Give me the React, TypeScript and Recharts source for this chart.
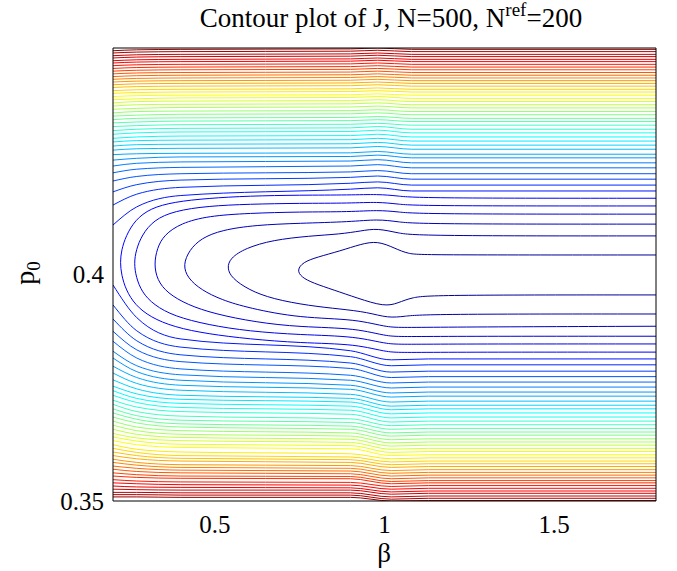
import { LineChart, Line, XAxis, YAxis } from 'recharts'

const X_TICKS = [0.5, 1, 1.5]
const Y_TICKS = [0.35, 0.4]

// inner contours (levels 1-6), open to the right: [beta, p0]
const C1: [number, number][] = [
  [1.8, 0.4042], [1.12, 0.4042], [1.07, 0.4044], [1.03, 0.4057], [0.98, 0.4073], [0.93, 0.4066],
  [0.87, 0.4051], [0.8, 0.4037], [0.76, 0.4026], [0.742, 0.4009], [0.755, 0.3993], [0.79, 0.398],
  [0.85, 0.3965], [0.92, 0.3947], [1.0, 0.3928], [1.04, 0.3936], [1.08, 0.3949], [1.15, 0.3954], [1.8, 0.3954],
]
const C2: [number, number][] = [
  [1.8, 0.4084], [1.1, 0.4084], [1.04, 0.409], [0.98, 0.4101], [0.93, 0.4095], [0.87, 0.4088],
  [0.78, 0.4084], [0.67, 0.4075], [0.59, 0.4057], [0.545, 0.4035], [0.536, 0.4013], [0.55, 0.3991],
  [0.6, 0.3965], [0.67, 0.3945], [0.78, 0.393], [0.87, 0.3923], [0.95, 0.3916], [1.01, 0.3903],
  [1.06, 0.3907], [1.12, 0.3912], [1.8, 0.3912],
]
const C3: [number, number][] = [
  [1.8, 0.411], [1.1, 0.411], [1.04, 0.4115], [0.98, 0.4121], [0.9, 0.4115], [0.75, 0.4112],
  [0.62, 0.4108], [0.52, 0.4097], [0.46, 0.4079], [0.425, 0.4053], [0.406, 0.402], [0.42, 0.3991],
  [0.46, 0.3965], [0.52, 0.3943], [0.6, 0.3925], [0.75, 0.3903], [0.92, 0.3901], [1.01, 0.3881],
  [1.08, 0.3883], [1.8, 0.3885],
]
const C4: [number, number][] = [
  [1.8, 0.4132], [1.1, 0.4132], [1.04, 0.4137], [0.98, 0.4141], [0.9, 0.4137], [0.75, 0.4137],
  [0.6, 0.4134], [0.48, 0.4128], [0.4, 0.4112], [0.35, 0.4086], [0.33, 0.4057], [0.321, 0.4022],
  [0.33, 0.3987], [0.36, 0.3958], [0.42, 0.3932], [0.5, 0.3912], [0.62, 0.3894], [0.75, 0.3883],
  [0.92, 0.3881], [1.01, 0.3861], [1.08, 0.3863], [1.8, 0.3863],
]
const C5: [number, number][] = [
  [1.8, 0.415], [1.1, 0.415], [1.04, 0.4154], [0.98, 0.4159], [0.9, 0.4156], [0.75, 0.4156],
  [0.6, 0.4154], [0.48, 0.415], [0.38, 0.4139], [0.32, 0.4119], [0.285, 0.4086], [0.268, 0.4053],
  [0.262, 0.4024], [0.268, 0.3993], [0.285, 0.396], [0.32, 0.3932], [0.38, 0.3907], [0.48, 0.3888],
  [0.6, 0.3874], [0.75, 0.3866], [0.92, 0.3863], [1.01, 0.3844], [1.08, 0.3846], [1.8, 0.3846],
]
const C6: [number, number][] = [
  [1.8, 0.4167], [1.1, 0.4167], [1.04, 0.4172], [0.98, 0.4176], [0.9, 0.4174], [0.75, 0.4174],
  [0.6, 0.4172], [0.48, 0.4167], [0.38, 0.4159], [0.31, 0.4145], [0.265, 0.4119], [0.238, 0.4084],
  [0.225, 0.4053], [0.221, 0.4026], [0.225, 0.3998], [0.238, 0.3965], [0.265, 0.3932], [0.31, 0.3905],
  [0.38, 0.3883], [0.48, 0.3868], [0.6, 0.3857], [0.75, 0.3848], [0.92, 0.3846], [1.01, 0.3826],
  [1.08, 0.3828], [1.8, 0.3828],
]
const INNER = [C1, C2, C3, C4, C5, C6]

// outer contours (levels 7-47), read at fixed beta columns
const UPPER_BETA = [0.2, 0.27, 0.4, 0.9, 0.98, 1.08, 1.8]
const UP_EDGE = [0.4108, 0.4152, 0.4181, 0.4205, 0.4223, 0.4238, 0.4251, 0.4263, 0.4273, 0.4282, 0.4291, 0.4299, 0.4308, 0.4316, 0.4325, 0.4333, 0.434, 0.4348, 0.4355, 0.4363, 0.437, 0.4377, 0.4384, 0.4391, 0.4398, 0.4404, 0.4411, 0.4417, 0.4423, 0.4429, 0.4435, 0.4441, 0.4447, 0.4453, 0.4459, 0.4465, 0.447, 0.4476, 0.4481, 0.4487, 0.4492]
const UP_NEAR = [0.4148, 0.4176, 0.4197, 0.4215, 0.4231, 0.4244, 0.4255, 0.4265, 0.4276, 0.4285, 0.4294, 0.4302, 0.4311, 0.4319, 0.4327, 0.4335, 0.4343, 0.435, 0.4358, 0.4365, 0.4373, 0.438, 0.4386, 0.4393, 0.44, 0.4406, 0.4413, 0.4419, 0.4425, 0.4431, 0.4437, 0.4443, 0.4449, 0.4455, 0.4461, 0.4467, 0.4472, 0.4478, 0.4483, 0.4489, 0.4494]
const UP_INNER = [0.4173, 0.4191, 0.4207, 0.4221, 0.4235, 0.4247, 0.4258, 0.4266, 0.4277, 0.4286, 0.4295, 0.4304, 0.4313, 0.4321, 0.4329, 0.4337, 0.4344, 0.4352, 0.4359, 0.4367, 0.4374, 0.4381, 0.4388, 0.4394, 0.4401, 0.4407, 0.4414, 0.442, 0.4426, 0.4432, 0.4438, 0.4444, 0.445, 0.4456, 0.4462, 0.4468, 0.4473, 0.4479, 0.4484, 0.449, 0.4495]
const UP_MID = [0.4187, 0.42, 0.4213, 0.4225, 0.4238, 0.4249, 0.4259, 0.4267, 0.4278, 0.4287, 0.4296, 0.4305, 0.4314, 0.4322, 0.433, 0.4338, 0.4345, 0.4353, 0.436, 0.4368, 0.4375, 0.4382, 0.4389, 0.4395, 0.4402, 0.4408, 0.4415, 0.4421, 0.4427, 0.4433, 0.4439, 0.4445, 0.4451, 0.4457, 0.4463, 0.4469, 0.4474, 0.448, 0.4485, 0.4491, 0.4496]
const UP_BUMP = [0.419, 0.4203, 0.4216, 0.4228, 0.4241, 0.4252, 0.4262, 0.427, 0.4281, 0.429, 0.4299, 0.4308, 0.4317, 0.4325, 0.4332, 0.434, 0.4347, 0.4355, 0.4362, 0.437, 0.4377, 0.4384, 0.4391, 0.4397, 0.4404, 0.441, 0.4417, 0.4423, 0.4429, 0.4435, 0.4441, 0.4447, 0.4453, 0.4459, 0.4465, 0.4471, 0.4476, 0.4482, 0.4487, 0.4493, 0.4498]
const UP_RIGHT = [0.4183, 0.4196, 0.4209, 0.4221, 0.4234, 0.4245, 0.4256, 0.4264, 0.4275, 0.4284, 0.4293, 0.4302, 0.4311, 0.4319, 0.4328, 0.4336, 0.4343, 0.4351, 0.4358, 0.4366, 0.4373, 0.438, 0.4387, 0.4394, 0.4401, 0.4407, 0.4414, 0.442, 0.4426, 0.4432, 0.4438, 0.4444, 0.445, 0.4456, 0.4462, 0.4468, 0.4473, 0.4479, 0.4484, 0.449, 0.4495]

const LOWER_BETA = [0.2, 0.27, 0.4, 0.9, 1.02, 1.13, 1.8]
const LOW_EDGE = [0.3976, 0.3932, 0.3901, 0.3874, 0.3852, 0.383, 0.3815, 0.3797, 0.3782, 0.3767, 0.3753, 0.3743, 0.3733, 0.3722, 0.3713, 0.3703, 0.3694, 0.3685, 0.3676, 0.3667, 0.3658, 0.3649, 0.3641, 0.3633, 0.3624, 0.3616, 0.3608, 0.36, 0.3592, 0.3585, 0.3577, 0.357, 0.3562, 0.3555, 0.3547, 0.354, 0.3533, 0.3526, 0.3519, 0.3514, 0.3509]
const LOW_NEAR = [0.3904, 0.3875, 0.3853, 0.3833, 0.3815, 0.3798, 0.3785, 0.3772, 0.3759, 0.3747, 0.3736, 0.3726, 0.3717, 0.3707, 0.3697, 0.3688, 0.368, 0.3672, 0.3663, 0.3655, 0.3647, 0.3639, 0.3632, 0.3624, 0.3614, 0.3607, 0.36, 0.3593, 0.3585, 0.3579, 0.3572, 0.3565, 0.3558, 0.3552, 0.3544, 0.3538, 0.3531, 0.3525, 0.3519, 0.3514, 0.3509]
const LOW_INNER = [0.3857, 0.3839, 0.3822, 0.3807, 0.3791, 0.3778, 0.3766, 0.3755, 0.3744, 0.3733, 0.3724, 0.3715, 0.3706, 0.3697, 0.3687, 0.3678, 0.367, 0.3663, 0.3655, 0.3647, 0.364, 0.3633, 0.3625, 0.3618, 0.3608, 0.36, 0.3594, 0.3588, 0.358, 0.3574, 0.3568, 0.3562, 0.3555, 0.355, 0.3542, 0.3536, 0.353, 0.3524, 0.3518, 0.3513, 0.3508]
const LOW_MID = [0.3831, 0.3818, 0.3804, 0.3792, 0.3777, 0.3766, 0.3755, 0.3746, 0.3735, 0.3726, 0.3718, 0.3709, 0.37, 0.3691, 0.3681, 0.3673, 0.3665, 0.3658, 0.365, 0.3643, 0.3636, 0.3629, 0.3622, 0.3615, 0.3604, 0.3597, 0.3591, 0.3585, 0.3578, 0.3572, 0.3566, 0.356, 0.3554, 0.3549, 0.3541, 0.3535, 0.3529, 0.3524, 0.3518, 0.3513, 0.3508]
const LOW_DIP = [0.3811, 0.3798, 0.3784, 0.3772, 0.376, 0.3749, 0.3738, 0.3729, 0.3718, 0.3709, 0.3701, 0.3692, 0.3683, 0.3674, 0.3666, 0.3658, 0.365, 0.3643, 0.3635, 0.3628, 0.3621, 0.3614, 0.3607, 0.36, 0.3593, 0.3586, 0.358, 0.3574, 0.3567, 0.3561, 0.3555, 0.3549, 0.3543, 0.3538, 0.3532, 0.3526, 0.352, 0.3515, 0.3509, 0.3504, 0.35]
const LOW_RIGHT = [0.3813, 0.38, 0.3786, 0.3774, 0.3762, 0.3751, 0.374, 0.3731, 0.372, 0.3711, 0.3703, 0.3694, 0.3685, 0.3676, 0.3668, 0.366, 0.3652, 0.3645, 0.3637, 0.363, 0.3623, 0.3616, 0.3609, 0.3602, 0.3595, 0.3588, 0.3582, 0.3576, 0.3569, 0.3563, 0.3557, 0.3551, 0.3545, 0.354, 0.3534, 0.3528, 0.3522, 0.3517, 0.3511, 0.3506, 0.3501]

const FIRST_OUTER_LEVEL = 7
const FONT = '"Liberation Serif", "Times New Roman", serif'

// matlab jet colormap
function jet(t: number) {
  const c = (v: number) => Math.round(255 * Math.max(0, Math.min(1, v)))
  const r = c(1.5 - Math.abs(4 * t - 3))
  const g = c(1.5 - Math.abs(4 * t - 2))
  const b = c(1.5 - Math.abs(4 * t - 1))
  return `rgb(${r},${g},${b})`
}
const levelColor = (level: number) => jet(0.02 + (level - 1) / 48)

type Contour = { key: string; level: number; curve: 'basis' | 'monotone'; points: { b: number; p: number }[] }

const contours: Contour[] = []
INNER.forEach((c, i) => {
  contours.push({ key: `c${i + 1}`, level: i + 1, curve: 'basis', points: c.map(([b, p]) => ({ b, p })) })
})
const upCols = [UP_EDGE, UP_NEAR, UP_INNER, UP_MID, UP_BUMP, UP_RIGHT, UP_RIGHT]
const lowCols = [LOW_EDGE, LOW_NEAR, LOW_INNER, LOW_MID, LOW_DIP, LOW_RIGHT, LOW_RIGHT]
UP_RIGHT.forEach((_, i) => {
  const level = FIRST_OUTER_LEVEL + i
  contours.push({ key: `u${level}`, level, curve: 'monotone', points: UPPER_BETA.map((b, j) => ({ b, p: upCols[j][i] })) })
  contours.push({ key: `l${level}`, level, curve: 'monotone', points: LOWER_BETA.map((b, j) => ({ b, p: lowCols[j][i] })) })
})

const XTick = (props: any) => (
  <text x={props.x} y={533} textAnchor="middle" fontFamily={FONT} fontSize={25} fill="#000">
    {props.payload.value}
  </text>
)
const YTick = (props: any) => (
  <text x={104} y={props.y + 8.5} textAnchor="end" fontFamily={FONT} fontSize={25} fill="#000">
    {props.payload.value}
  </text>
)

const frame = { stroke: '#000', strokeWidth: 1 }

export default function App() {
  return (
    <div style={{ position: 'relative', width: 677, height: 571, background: '#fff' }}>
      <style>{'body{margin:0}'}</style>
      <LineChart width={677} height={571} margin={{ top: 48, right: 21, bottom: 30, left: 53 }}>
        <XAxis type="number" dataKey="b" domain={[0.2, 1.8]} ticks={X_TICKS} allowDataOverflow
          height={40} tickLine={false} axisLine={frame} tick={XTick} />
        <XAxis xAxisId="bin" type="number" dataKey="b" domain={[0.2, 1.8]} ticks={X_TICKS} allowDataOverflow
          orientation="bottom" mirror tick={false} axisLine={false} tickLine={frame} tickSize={5} />
        <XAxis xAxisId="top" type="number" dataKey="b" domain={[0.2, 1.8]} ticks={X_TICKS} allowDataOverflow
          orientation="top" mirror tick={false} axisLine={frame} tickLine={frame} tickSize={5} />
        <YAxis type="number" domain={[0.35, 0.4498]} ticks={Y_TICKS} allowDataOverflow
          width={60} tickLine={false} axisLine={frame} tick={YTick} />
        <YAxis yAxisId="lin" type="number" domain={[0.35, 0.4498]} ticks={Y_TICKS} allowDataOverflow
          orientation="left" mirror tick={false} axisLine={false} tickLine={frame} tickSize={5} />
        <YAxis yAxisId="right" type="number" domain={[0.35, 0.4498]} ticks={Y_TICKS} allowDataOverflow
          orientation="right" mirror tick={false} axisLine={frame} tickLine={frame} tickSize={5} />
        {contours.map(c => (
          <Line key={c.key} data={c.points} dataKey="p" type={c.curve} stroke={levelColor(c.level)}
            strokeWidth={1} dot={false} activeDot={false} isAnimationActive={false} />
        ))}
      </LineChart>
      <svg width={677} height={571} style={{ position: 'absolute', left: 0, top: 0, pointerEvents: 'none' }}>
        <text x={391} y={27} textAnchor="middle" fontFamily={FONT} fontSize={27} fill="#000">
          Contour plot of J, N=500, N<tspan fontSize={19} dy={-11}>ref</tspan>
          <tspan dy={11}>=200</tspan>
        </text>
        <text x={384} y={562} textAnchor="middle" fontFamily={FONT} fontSize={27} fill="#000">β</text>
        <text transform="translate(34,273) rotate(-90)" textAnchor="middle" fontFamily={FONT} fontSize={28} fill="#000">
          p<tspan fontSize={19} dy={6}>0</tspan>
        </text>
      </svg>
    </div>
  )
}
